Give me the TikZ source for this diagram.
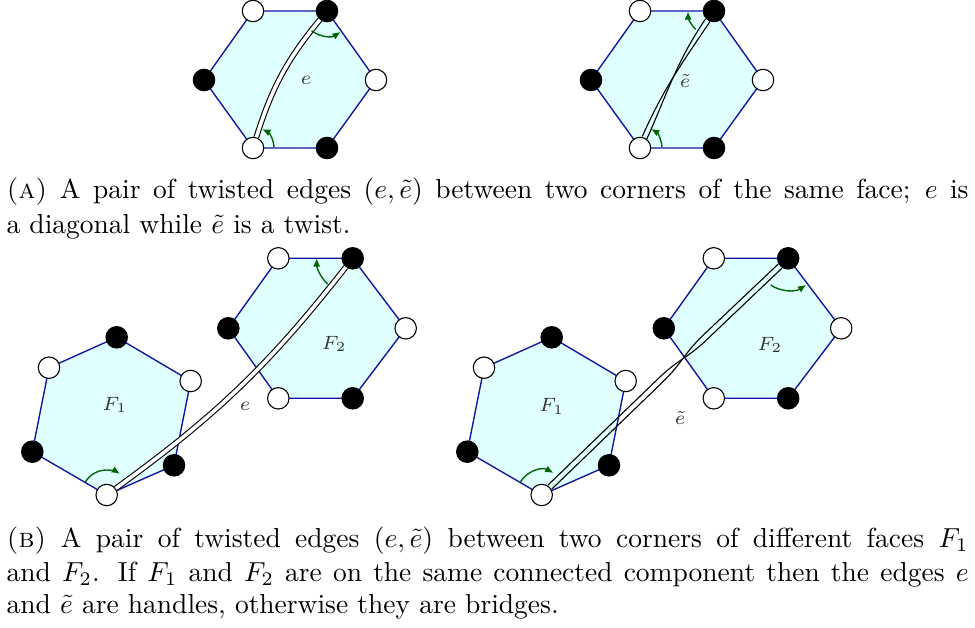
\documentclass[tikz,border=0pt]{standalone}
\usepackage{amsmath}
\usepackage{amssymb}
\usepackage{tikz}
\usetikzlibrary{arrows.meta,backgrounds}
\usepackage{xcolor}
\definecolor{facefill}{RGB}{224,255,255}
\definecolor{faceline}{RGB}{20,20,160}
\definecolor{turngreen}{RGB}{0,100,0}

\begin{document}
\begin{tikzpicture}[
    x=0.3636pt, y=0.3636pt,
    every node/.style={font=\small},
    wv/.style={circle, draw, fill=white, inner sep=0pt, minimum size=7.8pt, line width=0.4pt},
    bv/.style={circle, draw, fill=black, inner sep=0pt, minimum size=7.8pt, line width=0.4pt},
    face/.style={fill=facefill, draw=faceline, line width=0.5pt},
    ribbon/.style={double=white, double distance=1.3pt, line width=0.4pt},
    strand/.style={line width=0.4pt},
    turn/.style={-{Latex[length=3pt, width=2.6pt]}, turngreen, line width=0.5pt},
    lbl/.style={font=\scriptsize, text=black!80},
    captext/.style={anchor=base west, inner sep=0pt, font=\normalsize}
]
\useasboundingbox (0,0) rectangle (975,627);

% (a) same face: diagonal
\node[wv] (la1) at (253,616) {};
\node[bv] (la2) at (327,616) {};
\node[wv] (la3) at (376,547) {};
\node[bv] (la4) at (327,479) {};
\node[wv] (la5) at (253,479) {};
\node[bv] (la6) at (204,547) {};
\node[lbl] (lae) at (306,547) {$e$};

% (a) same face: twist
\node[wv] (ra1) at (640,616) {};
\node[bv] (ra2) at (714,616) {};
\node[wv] (ra3) at (763,547) {};
\node[bv] (ra4) at (714,479) {};
\node[wv] (ra5) at (640,479) {};
\node[bv] (ra6) at (591,547) {};
\node[lbl] (rae) at (685,546) {$\tilde{e}$};

% (b) two faces, edge e
\node[bv] (lf1) at (116.7,289.7) {};
\node[wv] (lf2) at (190.7,246) {};
\node[bv] (lf3) at (174,161.7) {};
\node[wv] (lf4) at (106.7,132) {};
\node[bv] (lf5) at (32.3,175.3) {};
\node[wv] (lf6) at (49,259.3) {};
\node[lbl] (lfF) at (115,222) {$F_1$};

\node[wv] (lg1) at (278.3,368.7) {};
\node[bv] (lg2) at (352.7,368.7) {};
\node[wv] (lg3) at (405.7,298.7) {};
\node[bv] (lg4) at (352.7,228.7) {};
\node[wv] (lg5) at (278.3,228.7) {};
\node[bv] (lg6) at (228.3,298.7) {};
\node[lbl] (lgF) at (334.3,283) {$F_2$};
\node[lbl] (lbe) at (245,220.3) {$e$};

% (b) two faces, edge e tilde
\node[bv] (rf1) at (551.7,289.7) {};
\node[wv] (rf2) at (625.7,246) {};
\node[bv] (rf3) at (609,161.7) {};
\node[wv] (rf4) at (541.7,132) {};
\node[bv] (rf5) at (467.3,175.3) {};
\node[wv] (rf6) at (484,259.3) {};
\node[lbl] (rfF) at (551.7,220.3) {$F_1$};

\node[wv] (rg1) at (713.8,368.7) {};
\node[bv] (rg2) at (788.2,368.7) {};
\node[wv] (rg3) at (841.2,298.7) {};
\node[bv] (rg4) at (788.2,228.7) {};
\node[wv] (rg5) at (713.8,228.7) {};
\node[bv] (rg6) at (663.8,298.7) {};
\node[lbl] (rgF) at (770,282) {$F_2$};
\node[lbl] (rbe) at (680,208.7) {$\tilde{e}$};

\begin{scope}[on background layer]
\filldraw[face] (la1.center) -- (la2.center) -- (la3.center) -- (la4.center) -- (la5.center) -- (la6.center) -- cycle;
\filldraw[face] (ra1.center) -- (ra2.center) -- (ra3.center) -- (ra4.center) -- (ra5.center) -- (ra6.center) -- cycle;
\filldraw[face] (lf1.center) -- (lf2.center) -- (lf3.center) -- (lf4.center) -- (lf5.center) -- (lf6.center) -- cycle;
\filldraw[face] (lg1.center) -- (lg2.center) -- (lg3.center) -- (lg4.center) -- (lg5.center) -- (lg6.center) -- cycle;
\filldraw[face] (rf1.center) -- (rf2.center) -- (rf3.center) -- (rf4.center) -- (rf5.center) -- (rf6.center) -- cycle;
\filldraw[face] (rg1.center) -- (rg2.center) -- (rg3.center) -- (rg4.center) -- (rg5.center) -- (rg6.center) -- cycle;
\end{scope}

% edges
\draw[ribbon] (la5) to[bend left=11] (la2);
\draw[strand] ([shift={(-2.3,1.24)}]ra5.66) .. controls +(66:52) and +(236:52) .. ([shift={(2.3,-1.24)}]ra2.236);
\draw[strand] ([shift={(2.3,-1.24)}]ra5.66) .. controls +(66:52) and +(236:52) .. ([shift={(-2.3,1.24)}]ra2.236);
\draw[ribbon] (lf4) to[bend right=8] (lg2);
\draw[strand] ([shift={(-1.9,2)}]rf4.44) -- ++(44:155) .. controls +(44:25) and +(224:25) .. ++(47.1,37.6) -- ([shift={(1.9,-2)}]rg2.224);
\draw[strand] ([shift={(1.9,-2)}]rf4.44) -- ++(44:155) .. controls +(44:25) and +(224:25) .. ++(39.3,45.7) -- ([shift={(-1.9,2)}]rg2.224);

% corner turns
\draw[turn] ([shift={(232:25)}]la2.center) arc[start angle=232, end angle=303, radius=25];
\draw[turn] ([shift={(2:21)}]la5.center) arc[start angle=2, end angle=64, radius=21];
\draw[turn] ([shift={(225:26)}]ra2.center) arc[start angle=225, end angle=181, radius=26];
\draw[turn] ([shift={(2:22)}]ra5.center) arc[start angle=2, end angle=60, radius=22];
\draw[turn] ([shift={(150:25)}]lf4.center) arc[start angle=150, end angle=58, radius=25];
\draw[turn] ([shift={(226:36)}]lg2.center) arc[start angle=226, end angle=180, radius=36];
\draw[turn] ([shift={(148:25)}]rf4.center) arc[start angle=148, end angle=62, radius=25];
\draw[turn] ([shift={(237:32)}]rg2.center) arc[start angle=237, end angle=304, radius=32];

% captions
\node[captext] (capa1) at (6,429) {\makebox[349.8pt][s]{\textsc{(a)} A pair of twisted edges $(e,\tilde{e})$ between two corners of the same face; $e$ is}};
\node[captext] (capa2) at (6,394) {a diagonal while $\tilde{e}$ is a twist.};
\node[captext] (capb1) at (6,80) {\makebox[349.8pt][s]{\textsc{(b)} A pair of twisted edges $(e,\tilde{e})$ between two corners of different faces $F_1$}};
\node[captext] (capb2) at (6,45.3) {\makebox[349.8pt][s]{and $F_2$. If $F_1$ and $F_2$ are on the same connected component then the edges $e$}};
\node[captext] (capb3) at (6,14) {and $\tilde{e}$ are handles, otherwise they are bridges.};
\end{tikzpicture}
\end{document}
